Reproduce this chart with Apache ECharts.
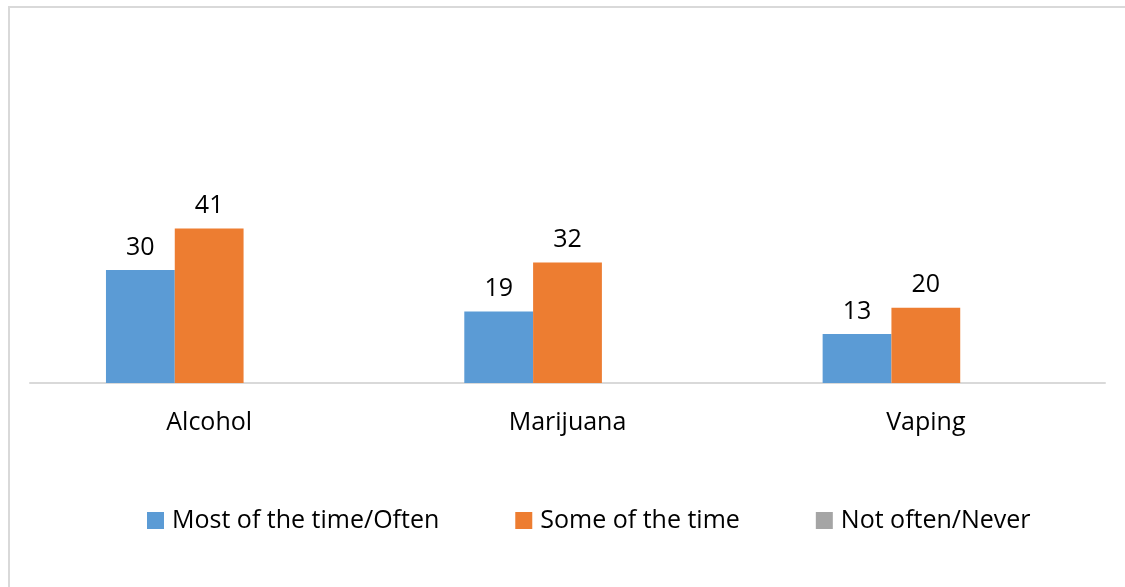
<!DOCTYPE html>
<html>
<head>
<meta charset="utf-8">
<script src="https://cdn.jsdelivr.net/npm/echarts@6/dist/echarts.min.js"></script>
<style>
  html, body { margin: 0; padding: 0; background: #ffffff; }
  #chart { width: 1125px; height: 587px; }
</style>
</head>
<body>
<div id="chart"></div>
<script>
// How often each substance comes up, by response group
const categories = ['Alcohol', 'Marijuana', 'Vaping'];
const seriesNames = ['Most of the time/Often', 'Some of the time', 'Not often/Never'];
const mostOften = [30, 19, 13];
const someTime = [41, 32, 20];
const notOften = [null, null, null];

const FONT = '"Open Sans", "Noto Sans", sans-serif';
const colors = ['#5B9BD5', '#ED7D31', '#A5A5A5'];

const chart = echarts.init(document.getElementById('chart'), null, { renderer: 'canvas' });

function barSeries(name, data, color) {
  return {
    name: name,
    type: 'bar',
    data: data,
    barWidth: '19.2%',
    barGap: '0%',
    barCategoryGap: '42.5%',
    itemStyle: { color: color },
    label: {
      show: true,
      position: 'top',
      distance: 10,
      color: '#000000',
      fontFamily: FONT,
      fontSize: 25
    }
  };
}

chart.setOption({
  animation: false,
  backgroundColor: '#ffffff',
  graphic: [{
    type: 'rect',
    shape: { x: 9, y: 7, width: 1300, height: 800 },
    style: { fill: 'none', stroke: '#d9d9d9', lineWidth: 2 },
    silent: true
  }],
  grid: { left: 30, right: 20, top: 157, bottom: 204 },
  xAxis: {
    type: 'category',
    data: categories,
    axisLine: { lineStyle: { color: '#d9d9d9', width: 2 } },
    axisTick: { show: false },
    axisLabel: { color: '#000000', fontFamily: FONT, fontSize: 25, margin: 27 }
  },
  yAxis: {
    type: 'value',
    min: 0,
    max: 60,
    show: false,
    splitLine: { show: false }
  },
  legend: {
    left: 147,
    top: 508,
    padding: 0,
    itemWidth: 17,
    itemHeight: 17,
    itemGap: 76,
    icon: 'rect',
    textStyle: {
      color: '#000000',
      fontFamily: FONT,
      fontSize: 25,
      lineHeight: 25,
      padding: [0, 0, 0, 3]
    },
    data: seriesNames
  },
  series: [
    barSeries(seriesNames[0], mostOften, colors[0]),
    barSeries(seriesNames[1], someTime, colors[1]),
    barSeries(seriesNames[2], notOften, colors[2])
  ]
});
</script>
</body>
</html>
